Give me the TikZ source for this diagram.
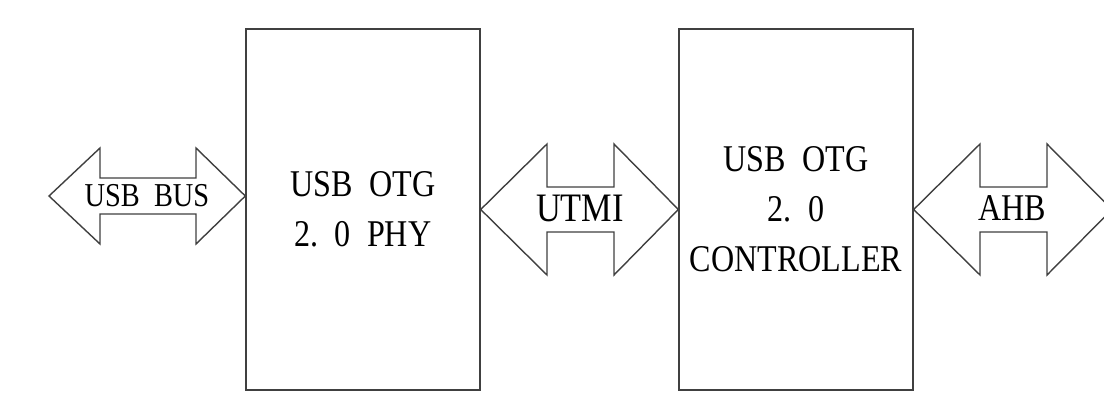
\documentclass[tikz,border=0pt]{standalone}
\usepackage{fontspec}
\setmainfont{Liberation Serif}[FakeStretch=0.85]
\begin{document}
\begin{tikzpicture}[x=0.02cm,y=-0.02cm,
  blk/.style={draw=black!75,line width=0.8pt,minimum width=4.68cm,minimum height=7.22cm,align=center,font=\fontsize{21.5}{28.5}\selectfont},
  bidir/.style={draw=black!75,line width=0.8pt,fill=white,line join=miter},
  lbl/.style={inner sep=0pt,font=\fontsize{21.5}{24}\selectfont}]
\useasboundingbox (0,0) rectangle (1104,392);
\node[blk] (phy) at (363,209.5) {USB\ \ OTG\\2.\ \ 0\ \ PHY};
\node[blk] (ctrl) at (796,209.5) {USB\ \ OTG\\2.\ \ 0\\CONTROLLER};
\coordinate (bus) at (49,196);
\draw[bidir] (bus) -- (100,148) -- (100,178) -- (196,178) -- (196,148) -- (phy.west |- bus) -- (196,244) -- (196,214) -- (100,214) -- (100,244) -- cycle;
\draw[bidir] (phy.east) -- (547,144) -- (547,187) -- (614,187) -- (614,144) -- (ctrl.west) -- (614,275) -- (614,232) -- (547,232) -- (547,275) -- cycle;
\draw[bidir] (ctrl.east) -- (980,144) -- (980,187) -- (1047,187) -- (1047,144) -- (1112,209.5) -- (1047,275) -- (1047,232) -- (980,232) -- (980,275) -- cycle;
\node[lbl,font=\fontsize{19}{22}\selectfont] (busl) at (147,196) {USB\ \ BUS};
\node[lbl,font=\fontsize{23}{26}\selectfont] (utmi) at (580,208) {UTMI};
\node[lbl] (ahb) at (1012,208) {AHB};
\end{tikzpicture}
\end{document}
